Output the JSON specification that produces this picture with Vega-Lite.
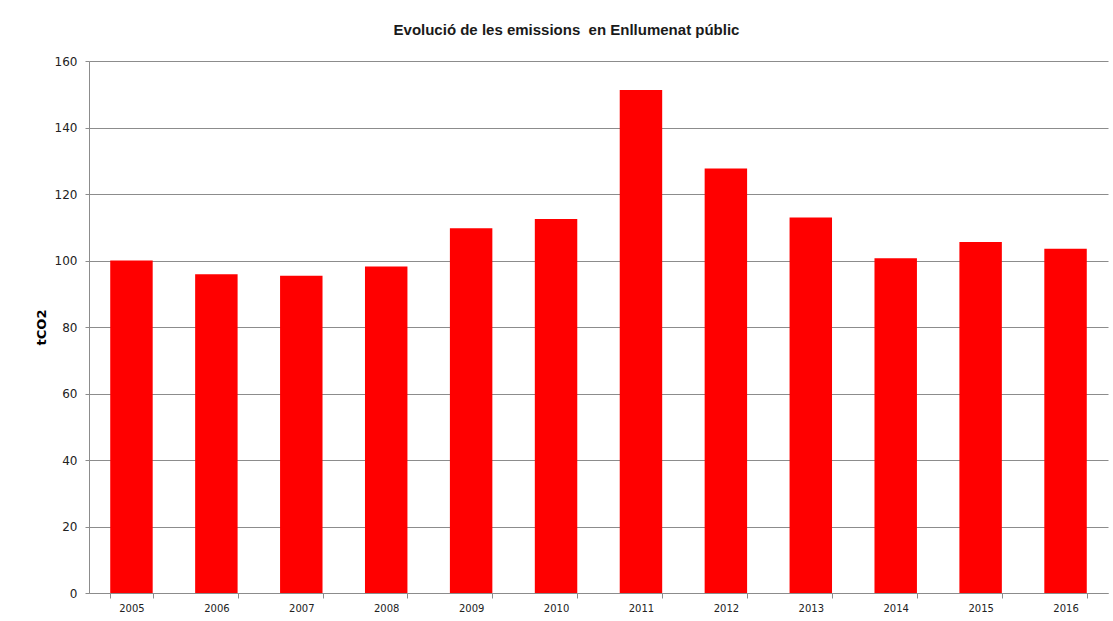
{
  "$schema": "https://vega.github.io/schema/vega-lite/v6.json",
  "width": 1019,
  "height": 532,
  "autosize": "none",
  "padding": {"left": 89, "top": 61, "right": 5, "bottom": 28},
  "background": "white",
  "title": {
    "text": "Evolució de les emissions \u00a0en Enllumenat públic",
    "font": "Liberation Sans",
    "fontSize": 15,
    "fontWeight": "bold",
    "color": "#1a1a1a",
    "anchor": "middle",
    "frame": "group",
    "baseline": "alphabetic",
    "offset": 5,
    "dx": -32
  },
  "data": {
    "values": [
      {"year": "2005", "tco2": 100.0},
      {"year": "2006", "tco2": 95.9},
      {"year": "2007", "tco2": 95.4},
      {"year": "2008", "tco2": 98.2},
      {"year": "2009", "tco2": 109.7},
      {"year": "2010", "tco2": 112.5},
      {"year": "2011", "tco2": 151.3},
      {"year": "2012", "tco2": 127.7},
      {"year": "2013", "tco2": 112.9},
      {"year": "2014", "tco2": 100.7},
      {"year": "2015", "tco2": 105.6},
      {"year": "2016", "tco2": 103.5}
    ]
  },
  "mark": {"type": "bar", "color": "#ff0000"},
  "encoding": {
    "x": {
      "field": "year",
      "type": "ordinal",
      "scale": {"paddingInner": 0.5, "paddingOuter": 0.25},
      "axis": {
        "title": null,
        "labelAngle": 0,
        "tickBand": "extent",
        "domainColor": "#8c8c8c",
        "tickColor": "#8c8c8c",
        "tickSize": 5,
        "labelFont": "DejaVu Sans",
        "labelFontSize": 10,
        "labelColor": "#222222",
        "labelPadding": 5,
        "grid": false
      }
    },
    "y": {
      "field": "tco2",
      "type": "quantitative",
      "scale": {"domain": [0, 160]},
      "axis": {
        "title": "tCO2",
        "values": [0, 20, 40, 60, 80, 100, 120, 140, 160],
        "titleFont": "DejaVu Sans",
        "titleFontSize": 13,
        "titleFontWeight": "bold",
        "titleColor": "#000000",
        "titlePadding": 6,
        "labelFont": "DejaVu Sans",
        "labelFontSize": 12,
        "labelColor": "#222222",
        "labelPadding": 8,
        "tickSize": 4,
        "tickColor": "#8c8c8c",
        "domainColor": "#8c8c8c",
        "gridColor": "#8c8c8c",
        "grid": true
      }
    }
  },
  "config": {"view": {"stroke": null}}
}
